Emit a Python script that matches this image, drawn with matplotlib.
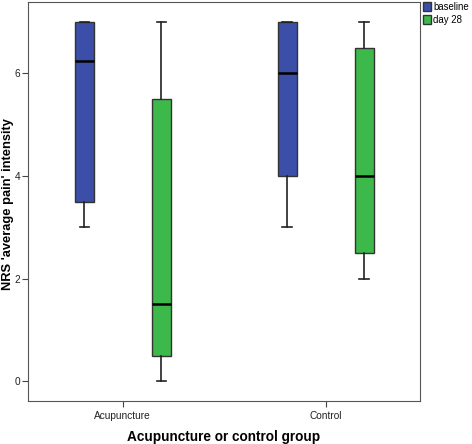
import matplotlib
matplotlib.use("Agg")
import matplotlib.pyplot as plt
from matplotlib.patches import Patch

plt.rcParams['font.family'] = ['Liberation Sans', 'DejaVu Sans']

groups = ["Acupuncture", "Control"]
series = ["baseline", "day 28"]
colors = ["#3b4fa8", "#3cb94a"]

# box stats: (whislo, q1, med, q3, whishi)
baseline_stats = [(3, 3.5, 6.25, 7, 7), (3, 4, 6, 7, 7)]
day28_stats = [(0, 0.5, 1.5, 5.5, 7), (2, 2.5, 4, 6.5, 7)]

fig = plt.figure(figsize=(4.72, 4.44), dpi=100)
ax = fig.add_axes([28 / 472, 43 / 444, 392 / 472, 399 / 444])

offset = 0.19
width = 0.094
for k, (stats, color) in enumerate(zip([baseline_stats, day28_stats], colors)):
    bxp_stats = []
    for lo, q1, med, q3, hi in stats:
        bxp_stats.append(dict(whislo=lo, q1=q1, med=med, q3=q3, whishi=hi, fliers=[]))
    pos = [i + (2 * k - 1) * offset for i in range(len(groups))]
    ax.bxp(bxp_stats, positions=pos, widths=width, patch_artist=True,
           showfliers=False, capwidths=width * 0.5,
           boxprops=dict(facecolor=color, edgecolor="#333333", linewidth=1),
           medianprops=dict(color="black", linewidth=1.8),
           whiskerprops=dict(color="#222222", linewidth=1.2),
           capprops=dict(color="#222222", linewidth=1.2))

ax.set_xlim(-0.468, 1.466)
ax.set_ylim(-0.38, 7.39)
ax.set_xticks(range(len(groups)))
ax.set_xticklabels(groups)
ax.set_yticks([0, 2, 4, 6])
ax.tick_params(labelsize=7.3, length=4, color="#444444", labelcolor="#222222")
ax.tick_params(axis="y", pad=1.5)
for s in ax.spines.values():
    s.set_color("#555555")

ax.set_xlabel("Acupuncture or control group", fontsize=9.8, fontweight="bold", labelpad=6)
ax.set_ylabel("NRS 'average pain' intensity", fontsize=9.3, fontweight="bold")
ax.yaxis.set_label_coords(-0.0355, 0.494)

handles = [Patch(facecolor=c, edgecolor="#333333", label=s) for c, s in zip(colors, series)]
fig.legend(handles=handles, loc="upper left", bbox_to_anchor=(421 / 472, 1.0),
           frameon=False, fontsize=6.9, handlelength=0.8, handleheight=1.0,
           handletextpad=0.3, labelspacing=0.3, borderpad=0.2, borderaxespad=0)

fig.savefig("out.png", dpi=100)
